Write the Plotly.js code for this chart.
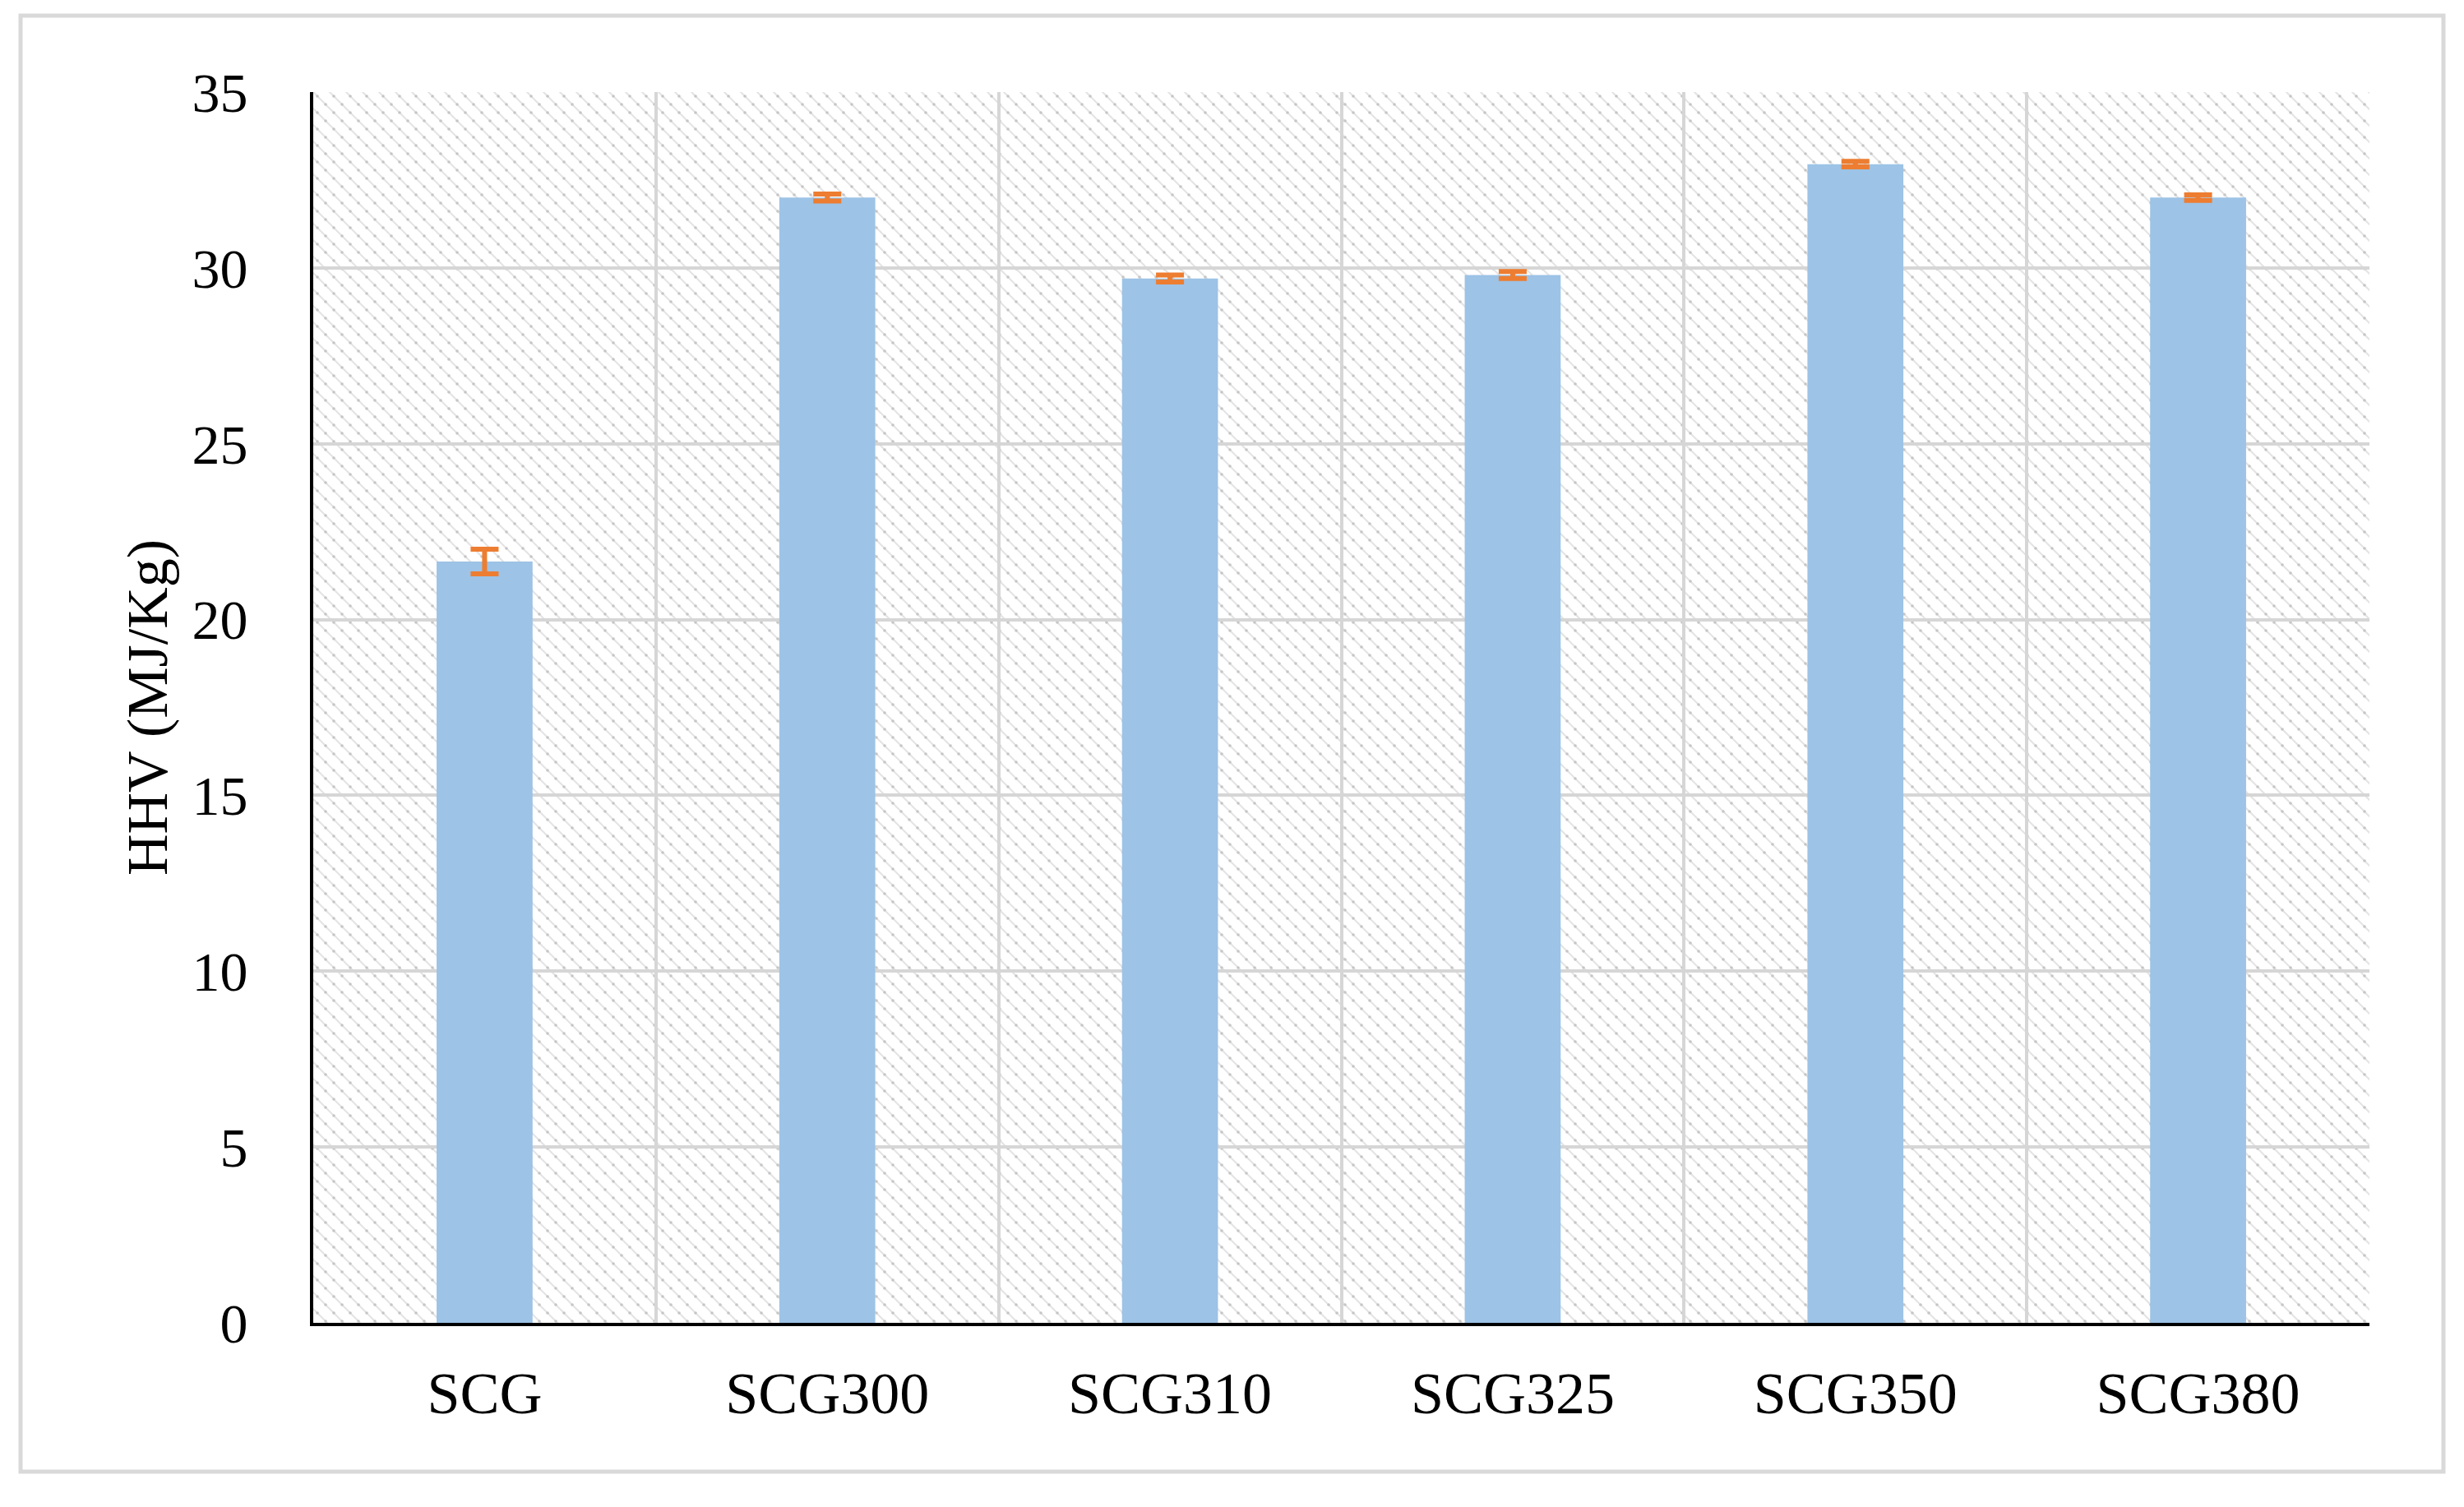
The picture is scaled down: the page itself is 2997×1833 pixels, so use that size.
<!DOCTYPE html>
<html>
<head>
<meta charset="utf-8">
<script src="https://cdn.plot.ly/plotly-3.0.1.min.js"></script>
<style>html,body{margin:0;padding:0;background:#fff;}#chart{width:2997px;height:1833px;}</style>
</head>
<body>
<div id="chart"></div>
<script>
// ---- data ----
var categories = ["SCG", "SCG300", "SCG310", "SCG325", "SCG350", "SCG380"];
var hhvValues = [21.65, 32.0, 29.7, 29.8, 32.95, 32.0];
var hhvErrors = [0.35, 0.1, 0.1, 0.1, 0.08, 0.08];
var yTickVals = [0, 5, 10, 15, 20, 25, 30, 35];
var yTitle = "HHV (MJ/Kg)";

// ---- geometry (pixels) ----
var W = 2997, H = 1833;
var L = 381, R = 2882, T = 112, B = 1609;
var plotW = R - L, plotH = B - T;

// hatch background as SVG pattern
var svg = '<svg xmlns="http://www.w3.org/2000/svg" width="' + plotW + '" height="' + plotH + '">' +
  '<defs><pattern id="p" width="20" height="20" patternUnits="userSpaceOnUse">' +
  '<path d="M-5,-5 L25,25 M-5,15 L5,25 M15,-5 L25,5" stroke="#e4e4e4" stroke-width="2.2"/>' +
  '<circle cx="5" cy="5" r="1.8" fill="#c6c6c6"/>' +
  '<circle cx="15" cy="15" r="1.8" fill="#c6c6c6"/>' +
  '</pattern></defs><rect width="100%" height="100%" fill="#fff"/><rect width="100%" height="100%" fill="url(#p)"/></svg>';
var bgSrc = 'data:image/svg+xml;charset=utf-8,' + encodeURIComponent(svg);

var fontFam = '"Liberation Serif", "Times New Roman", serif';

var trace = {
  type: 'bar',
  x: categories,
  y: hhvValues,
  marker: {color: '#9DC3E6', line: {width: 0}},
  error_y: {type: 'data', array: hhvErrors, visible: true, color: '#ED7D31', thickness: 6, width: 17},
  hoverinfo: 'x+y'
};

var layout = {
  width: W, height: H,
  margin: {l: L, r: W - R, t: T, b: H - B, pad: 0},
  paper_bgcolor: '#ffffff',
  plot_bgcolor: '#ffffff',
  showlegend: false,
  bargap: 0.72,
  font: {family: fontFam, color: '#000000', size: 70},
  xaxis: {
    type: 'category',
    tickson: 'boundaries',
    showgrid: true, gridcolor: '#d6d6d6', gridwidth: 4,
    showline: true, linecolor: '#000000', linewidth: 4,
    ticks: '', ticklabelstandoff: 20,
    tickfont: {family: fontFam, size: 72, color: '#000'},
    fixedrange: true
  },
  yaxis: {
    range: [0, 35], tickvals: yTickVals, ticktext: yTickVals.map(String),
    showgrid: true, gridcolor: '#d6d6d6', gridwidth: 4,
    zeroline: false,
    showline: true, linecolor: '#000000', linewidth: 4,
    ticks: '', ticklabelstandoff: 62,
    tickfont: {family: fontFam, size: 68, color: '#000'},
    title: {text: yTitle, font: {family: fontFam, size: 70, color: '#000'}, standoff: 8},
    fixedrange: true
  },
  images: [{
    source: bgSrc, xref: 'paper', yref: 'paper', x: 0, y: 1, sizex: 1, sizey: 1,
    xanchor: 'left', yanchor: 'top', sizing: 'stretch', layer: 'below'
  }],
  shapes: [{
    type: 'rect', xref: 'paper', yref: 'paper',
    x0: (25 - L) / plotW, x1: (2972 - L) / plotW,
    y0: (B - 1790) / plotH, y1: (B - 19) / plotH,
    line: {color: '#d9d9d9', width: 5}, fillcolor: 'rgba(0,0,0,0)', layer: 'below'
  }]
};

Plotly.newPlot('chart', [trace], layout, {displayModeBar: false, staticPlot: true});
</script>
</body>
</html>
